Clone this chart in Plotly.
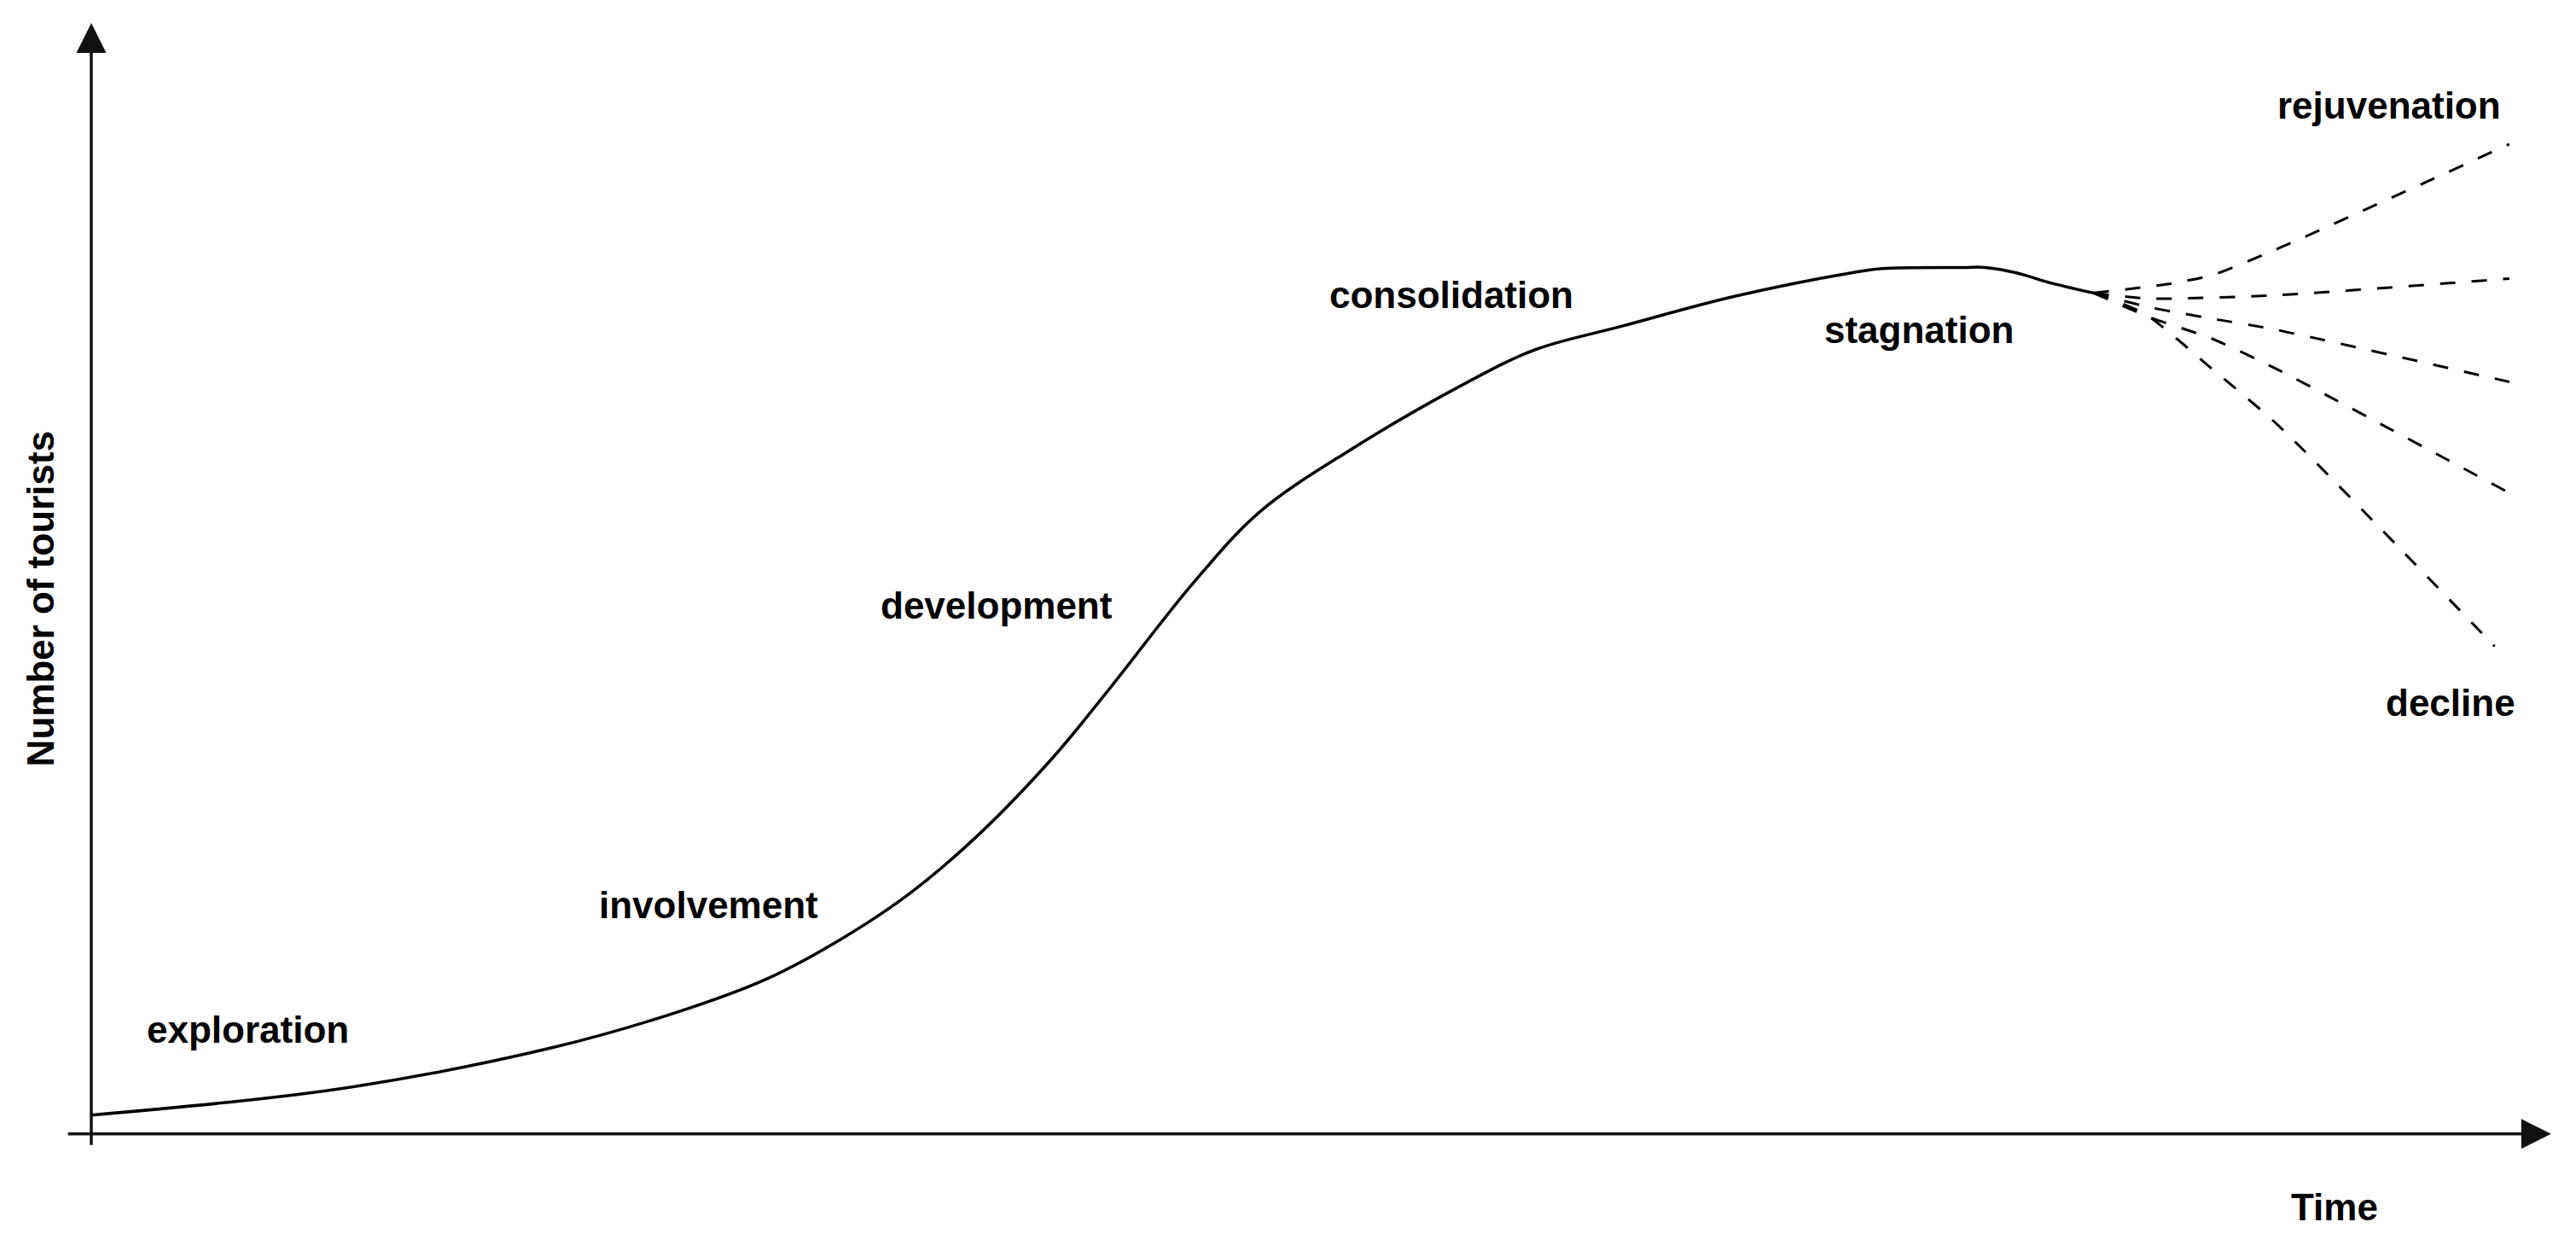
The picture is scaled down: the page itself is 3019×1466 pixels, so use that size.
"""Butler tourism area life cycle, redrawn with Plotly."""

import plotly.graph_objects as go

# main life-cycle curve (time and number of tourists, 0-100 scale)
time = [0, 10.2, 18.8, 24.0, 27.5, 30.6, 33.3, 36.1, 39.1, 41.4, 44.8,
        47.5, 51.2, 55.8, 58.7, 62.2, 66.8, 71.5, 72.8, 76.1, 77.0, 78.3,
        79.5, 81.4]
tourists = [1.7, 4.1, 7.8, 11.1, 14.0, 17.7, 21.7, 27.0, 33.9, 40.1, 49.6,
            56.0, 61.6, 67.5, 70.6, 72.7, 75.4, 77.5, 77.9, 78.0, 78.0, 77.5,
            76.7, 75.7]

# five possible paths after stagnation
rejuvenation_t = [81.4, 84.4, 86.2, 88.8, 98.3]
rejuvenation_n = [75.7, 76.5, 77.3, 79.6, 89.1]
steady_t = [81.4, 83.7, 88.8, 98.3]
steady_n = [75.7, 75.2, 75.5, 77.0]
slight_drop_t = [81.4, 83.7, 86.2, 88.8, 98.3]
slight_drop_n = [75.7, 74.4, 73.4, 72.4, 67.7]
drop_t = [81.4, 83.7, 86.2, 88.8, 98.3]
drop_n = [75.7, 73.5, 71.6, 68.9, 57.7]
decline_t = [81.4, 83.5, 86.2, 88.9, 97.7]
decline_n = [75.7, 73.8, 68.9, 63.8, 43.9]

# stage labels and where they sit
stages = ['exploration', 'involvement', 'development', 'consolidation',
          'stagnation', 'rejuvenation', 'decline']
stage_t = [6.35, 25.1, 36.8, 55.3, 74.3, 93.4, 95.9]
stage_n = [9.4, 20.6, 47.6, 75.5, 72.4, 92.6, 38.8]

x_title = 'Time'
y_title = 'Number of tourists'

FONT = 'Liberation Sans, Arial, sans-serif'

fig = go.Figure()

fig.add_trace(go.Scatter(
    x=time, y=tourists, mode='lines',
    line=dict(color='black', width=3.5, shape='spline', smoothing=1.0),
    hoverinfo='skip'
))

branches = [
    (rejuvenation_t, rejuvenation_n),
    (steady_t, steady_n),
    (slight_drop_t, slight_drop_n),
    (drop_t, drop_n),
    (decline_t, decline_n),
]
for bt, bn in branches:
    fig.add_trace(go.Scatter(
        x=bt, y=bn, mode='lines',
        line=dict(color='black', width=3, dash='18px,19px',
                  shape='spline', smoothing=0.6),
        hoverinfo='skip'
    ))

# stage labels
for label, t, n in zip(stages, stage_t, stage_n):
    fig.add_annotation(
        x=t, y=n, xref='x', yref='y', text='<b>%s</b>' % label,
        showarrow=False, font=dict(family=FONT, size=44, color='black')
    )

# axes drawn as arrows
fig.add_annotation(
    x=100, y=0, ax=-1.0, ay=0, xref='x', yref='y', axref='x', ayref='y',
    text='', showarrow=True, arrowhead=2, arrowsize=2, arrowwidth=3.5,
    arrowcolor='#111111'
)
fig.add_annotation(
    x=0, y=100, ax=0, ay=-1.1, xref='x', yref='y', axref='x', ayref='y',
    text='', showarrow=True, arrowhead=2, arrowsize=2, arrowwidth=3.5,
    arrowcolor='#111111'
)

# axis titles
fig.add_annotation(
    x=91.2, y=-6.6, xref='x', yref='y', text='<b>%s</b>' % x_title,
    showarrow=False, font=dict(family=FONT, size=44, color='black')
)
fig.add_annotation(
    x=-2.08, y=48.2, xref='x', yref='y', text='<b>%s</b>' % y_title,
    showarrow=False, textangle=-90,
    font=dict(family=FONT, size=44, color='black')
)

fig.update_layout(
    width=3019,
    height=1466,
    margin=dict(l=1, r=23, t=6, b=41),
    showlegend=False,
    paper_bgcolor='white',
    plot_bgcolor='white',
    xaxis=dict(range=[-3.399, 100.49], visible=False, showgrid=False,
               zeroline=False),
    yaxis=dict(range=[-8, 101], visible=False, showgrid=False,
               zeroline=False),
)

fig.write_html("out.html")
